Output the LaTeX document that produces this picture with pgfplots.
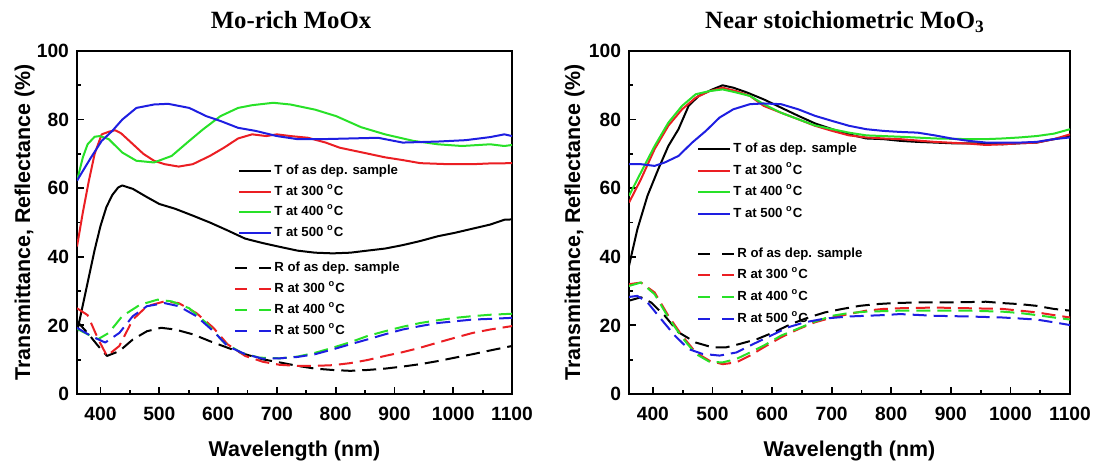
\documentclass[border=0pt]{standalone}
\usepackage{fontspec}
\setmainfont{Liberation Sans}
\newfontfamily\titlefont{Liberation Serif}
\usepackage{pgfplots}
\pgfplotsset{compat=1.18}
\definecolor{cR}{RGB}{235,30,35}
\definecolor{cG}{RGB}{40,225,40}
\definecolor{cB}{RGB}{30,30,225}
\pgfplotsset{
  base/.style={
    scale only axis, height=171.5pt,
    xmin=360, xmax=1100, ymin=0, ymax=100,
    axis line style={line width=1pt},
    tick pos=left, tick align=inside,
    xtick={400,500,...,1100}, ytick={0,20,...,100},
    minor x tick num=1, minor y tick num=1,
    major tick length=3.5pt, minor tick length=2pt,
    every tick/.style={line width=0.9pt, black},
    /pgf/number format/assume math mode=true,
    /pgf/number format/1000 sep={},
    ticklabel style={font=\fontsize{9.6}{10}\selectfont\bfseries},
    yticklabel style={xshift=-0.5pt},
    xticklabel style={yshift=-3pt},
    label style={font=\fontsize{10.7}{12}\selectfont\bfseries},
    legend style={draw=none, fill=none, inner sep=0pt, row sep=1.75pt,
      font=\fontsize{6.6}{7}\selectfont\bfseries,
      nodes={inner sep=1pt, text height=5pt, text depth=1.5pt}},
    legend cell align=left,
    every axis plot/.append style={line width=1pt, line join=round},
  },
  solidleg/.style={legend image code/.code={\draw[##1] (0pt,0pt) -- (16pt,0pt);}},
  dashleg/.style={legend image code/.code={\draw[##1,solid] (0pt,0pt) -- (6pt,0pt);\draw[##1,solid] (12pt,0pt) -- (18pt,0pt);}},
  dsh/.style={dash pattern=on 7pt off 3.5pt},
}
\begin{document}
\begin{tikzpicture}
\useasboundingbox (0,0) rectangle (547.5pt,232pt);
% ---------------- Left panel: T ----------------
\begin{axis}[base, solidleg, width=217.5pt, at={(38.5pt,35pt)}, anchor=south west,
  title={\titlefont\fontsize{12.4}{14}\selectfont\bfseries Mo-rich MoOx},
  title style={at={(0.5,1)}, anchor=base, yshift=5pt, xshift=-1.75pt},
  xlabel={Wavelength (nm)}, ylabel={Transmittance, Reflectance (\%)},
  xlabel style={at={(0.5,0)}, anchor=base, yshift=-31.5pt},
  ylabel style={at={(-0.108,0.5)}, anchor=base, rotate=0},
  legend style={at={(0.37,0.675)}, anchor=north west}]
\addplot[black] coordinates {(360,18)(370,26)(380,34)(390,42)(400,49)(410,54.5)(420,58)(430,60.2)(437,60.8)(455,59.8)(479,57.4)(500,55.4)(527,54)(557,52)(586,50)(616,47.7)(646,45.3)(676,44)(705,42.9)(735,41.8)(765,41.2)(795,41)(825,41.2)(854,41.8)(884,42.4)(914,43.4)(944,44.6)(974,46)(1003,47)(1033,48.2)(1063,49.4)(1087,50.8)(1100,50.9)};
\addlegendentry{T of as dep. sample}
\addplot[cR] coordinates {(360,43)(370,53)(380,62)(390,70)(402,75.7)(415,76.5)(425,76.9)(435,76)(449,73.8)(473,70)(491,68)(509,67)(533,66.3)(557,67)(586,69.4)(610,71.8)(634,74.5)(658,75.7)(682,75.2)(700,75.7)(723,75.2)(753,74.7)(783,73.3)(807,71.8)(854,70.1)(884,69)(914,68.2)(944,67.3)(992,67)(1033,67)(1060,67.2)(1100,67.3)};
\addlegendentry{T at 300 \textsuperscript{o}C}
\addplot[cG] coordinates {(360,62.2)(370,69)(378,72.8)(390,75)(399,75.2)(414,74.3)(437,70.4)(461,68)(491,67.5)(521,69.4)(551,73.8)(574,77.1)(604,81)(634,83.4)(658,84.2)(694,84.9)(723,84.4)(765,82.9)(801,81)(843,77.8)(884,75.7)(932,73.8)(974,72.8)(1015,72.3)(1063,72.8)(1087,72.3)(1100,72.6)};
\addlegendentry{T at 400 \textsuperscript{o}C}
\addplot[cB] coordinates {(360,62.2)(384,69)(402,73.8)(420,76.7)(437,80)(461,83.4)(491,84.4)(515,84.6)(551,83.4)(580,81)(604,79.6)(634,77.6)(664,76.7)(700,75.2)(735,74.3)(777,74.3)(825,74.5)(872,74.7)(914,73.3)(974,73.6)(1021,74)(1063,74.9)(1087,75.7)(1100,75.2)};
\addlegendentry{T at 500 \textsuperscript{o}C}
\end{axis}
% ---------------- Left panel: R ----------------
\begin{axis}[base, dashleg, hide axis, width=217.5pt, at={(38.5pt,35pt)}, anchor=south west,
  legend style={at={(0.361,0.392)}, anchor=north west, row sep=2pt}]
\addplot[black,dsh] coordinates {(360,21.2)(378,17.8)(396,14)(411,11.1)(432,12.5)(455,15.9)(479,18.3)(503,19.3)(527,18.8)(557,17.4)(586,15.4)(616,13.5)(646,11.6)(676,10.1)(705,9.2)(735,8.2)(765,7.4)(795,7.0)(825,6.75)(854,7.0)(884,7.4)(914,8)(944,8.7)(974,9.6)(1003,10.6)(1033,11.6)(1063,12.7)(1100,14)};
\addlegendentry{R of as dep. sample}
\addplot[cR,dsh] coordinates {(360,25)(378,23)(396,16)(411,11.1)(432,14)(455,21.7)(479,25.6)(509,27)(533,26.5)(563,23.6)(592,19.3)(616,14.5)(646,11.1)(676,9.4)(705,8.5)(735,8.2)(765,8.2)(795,8.4)(825,9.0)(854,9.9)(884,11.1)(914,12.2)(944,13.5)(974,15)(1003,16.4)(1033,17.8)(1063,18.8)(1100,19.8)};
\addlegendentry{R at 300 \textsuperscript{o}C}
\addplot[cG,dsh] coordinates {(360,19)(378,17.4)(396,16)(414,17.8)(437,22.7)(467,26)(497,27.5)(521,27)(551,25)(580,20.7)(610,15)(640,12)(670,10.6)(705,10.4)(735,10.9)(765,12)(795,13.5)(825,15.1)(854,16.9)(884,18.3)(914,19.6)(944,20.7)(974,21.5)(1003,22.2)(1033,22.7)(1063,23.1)(1100,23.4)};
\addlegendentry{R at 400 \textsuperscript{o}C}
\addplot[cB,dsh] coordinates {(360,19.3)(384,16.9)(408,15)(432,17.8)(455,22.7)(479,25.6)(509,26.5)(533,25.6)(563,22.7)(592,18.3)(616,14)(646,11.6)(676,10.3)(705,10.4)(735,10.8)(765,11.6)(795,13)(825,14.5)(854,15.9)(884,17.4)(914,18.8)(944,19.8)(974,20.7)(1003,21.2)(1033,21.7)(1063,21.9)(1100,22.2)};
\addlegendentry{R at 500 \textsuperscript{o}C}
\end{axis}
% ---------------- Right panel: T ----------------
\begin{axis}[base, solidleg, width=220.5pt, at={(314.5pt,35pt)}, anchor=south west,
  title={\titlefont\fontsize{12.4}{14}\selectfont\bfseries Near stoichiometric MoO\textsubscript{3}},
  title style={at={(0.5,1)}, anchor=base, yshift=5pt, xshift=-2.25pt},
  xlabel={Wavelength (nm)}, ylabel={Transmittance, Reflectance (\%)},
  xlabel style={at={(0.5,0)}, anchor=base, yshift=-31.5pt},
  ylabel style={at={(-0.111,0.5)}, anchor=base, rotate=0},
  legend style={at={(0.154,0.741)}, anchor=north west, row sep=2.4pt}]
\addplot[black] coordinates {(360,37.4)(374,48)(391,57.8)(409,65.5)(426,72.3)(443,77.2)(460,84)(477,86.9)(500,88.8)(517,90)(535,89.3)(558,87.9)(586,85.9)(615,83.5)(644,81.1)(672,78.9)(701,77.2)(729,75.7)(758,74.5)(787,74.3)(815,73.8)(844,73.5)(873,73.3)(901,73.1)(930,73.1)(959,73)(987,72.8)(1016,73.1)(1044,73.3)(1073,74.3)(1100,75.2)};
\addlegendentry{T of as dep. sample}
\addplot[cR] coordinates {(360,55.8)(380,62.6)(403,71.4)(426,78.2)(449,83)(472,86.4)(495,88.3)(517,89.3)(540,88.3)(563,86.9)(586,84)(615,82)(644,80.1)(672,78.2)(701,76.7)(729,75.4)(758,74.8)(787,74.5)(815,74.3)(873,73.5)(930,73)(959,72.6)(987,72.8)(1016,73.1)(1044,73.3)(1073,74.3)(1100,75.7)};
\addlegendentry{T at 300 \textsuperscript{o}C}
\addplot[cG] coordinates {(360,57.8)(380,64.6)(403,72.3)(426,79.1)(449,84)(472,87.4)(495,88.3)(517,88.8)(540,87.9)(563,86.9)(586,84.5)(615,82)(644,80.1)(672,78.3)(701,77.2)(729,76.2)(758,75.4)(815,75)(873,74.5)(930,74.3)(959,74.3)(987,74.5)(1016,74.8)(1044,75.2)(1073,75.9)(1100,77.2)};
\addlegendentry{T at 400 \textsuperscript{o}C}
\addplot[cB] coordinates {(360,67)(380,67)(403,66.5)(420,67.5)(443,69.4)(466,73.3)(489,76.7)(512,80.6)(535,83)(563,84.5)(586,84.7)(615,84.5)(644,83)(672,81.1)(701,79.6)(729,78.2)(758,77.2)(787,76.7)(815,76.4)(844,76.2)(873,75.4)(901,74.5)(930,73.8)(959,73.3)(987,73.3)(1016,73.3)(1044,73.5)(1073,74.3)(1100,74.8)};
\addlegendentry{T at 500 \textsuperscript{o}C}
\end{axis}
% ---------------- Right panel: R ----------------
\begin{axis}[base, dashleg, hide axis, width=220.5pt, at={(314.5pt,35pt)}, anchor=south west,
  legend style={at={(0.154,0.435)}, anchor=north west, row sep=2.4pt}]
\addplot[black,dsh] coordinates {(360,27.2)(380,28.2)(397,26.7)(420,22.8)(443,18)(472,15)(500,13.6)(523,13.6)(546,14.6)(575,16)(603,18)(632,20.4)(661,22.3)(689,23.8)(718,24.8)(747,25.7)(775,26.2)(804,26.5)(844,26.7)(901,26.7)(959,26.9)(987,26.5)(1016,26.2)(1044,25.7)(1073,24.8)(1100,24.3)};
\addlegendentry{R of as dep. sample}
\addplot[cR,dsh] coordinates {(360,32)(380,32.5)(403,29.6)(426,22.8)(449,17)(472,12.1)(495,9.7)(517,8.7)(540,9.2)(563,11.2)(586,13.6)(615,16.5)(644,18.9)(672,20.9)(701,22.3)(729,23.3)(758,24.3)(787,24.8)(815,25)(873,25.2)(930,25)(987,24.8)(1016,24.3)(1044,23.8)(1073,23)(1100,22.3)};
\addlegendentry{R at 300 \textsuperscript{o}C}
\addplot[cG,dsh] coordinates {(360,31.5)(380,32.5)(403,29.1)(426,22.3)(449,16.5)(472,11.7)(495,9.4)(517,9.2)(540,10.2)(563,12.1)(586,14.1)(615,17)(644,19.1)(672,21.1)(701,22.8)(729,23.6)(758,24)(815,24.3)(873,24.3)(930,24.3)(987,24)(1016,23.6)(1044,23)(1073,22.3)(1100,21.7)};
\addlegendentry{R at 400 \textsuperscript{o}C}
\addplot[cB,dsh] coordinates {(360,28.3)(374,28.6)(391,26.7)(414,21.8)(437,17)(460,13.1)(483,11.7)(512,11.2)(540,12.1)(569,14.6)(598,17)(626,19.4)(655,20.9)(689,22)(729,22.6)(758,22.8)(787,23)(815,23.3)(873,22.8)(930,22.6)(987,22.3)(1016,22)(1044,21.7)(1073,20.9)(1100,20.1)};
\addlegendentry{R at 500 \textsuperscript{o}C}
\end{axis}
\end{tikzpicture}
\end{document}
